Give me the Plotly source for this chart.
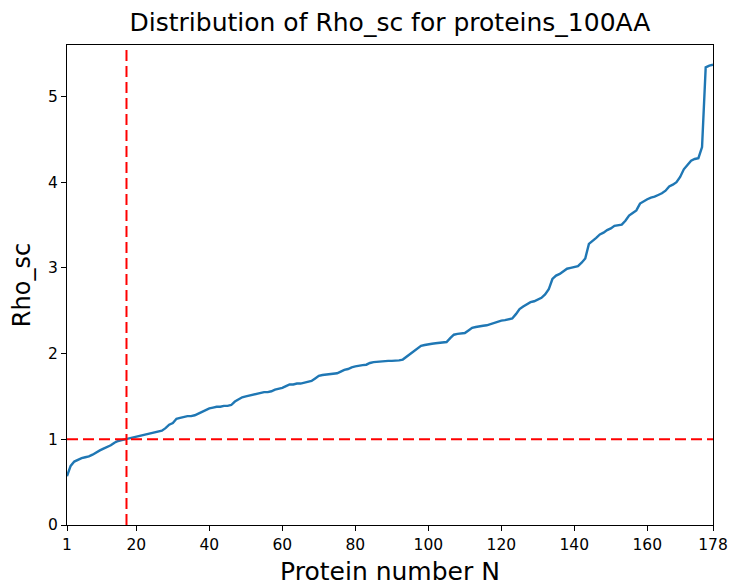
import plotly.graph_objects as go

# Rho_sc per protein, sorted ascending (178 proteins of ~100 residues)
protein_n = list(range(1, 179))
rho_sc = [
    0.57, 0.69, 0.74, 0.76, 0.78, 0.79, 0.80, 0.82, 0.85, 0.87,
    0.89, 0.91, 0.93, 0.96, 0.98, 0.99, 1.00, 1.01, 1.02, 1.03,
    1.04, 1.05, 1.06, 1.07, 1.08, 1.09, 1.10, 1.13, 1.17, 1.19,
    1.24, 1.25, 1.26, 1.27, 1.27, 1.28, 1.30, 1.32, 1.34, 1.36,
    1.37, 1.38, 1.38, 1.39, 1.39, 1.40, 1.44, 1.47, 1.49, 1.50,
    1.51, 1.52, 1.53, 1.54, 1.55, 1.55, 1.56, 1.58, 1.59, 1.60,
    1.62, 1.64, 1.64, 1.65, 1.65, 1.66, 1.67, 1.68, 1.71, 1.74,
    1.75, 1.755, 1.76, 1.77, 1.77, 1.79, 1.81, 1.82, 1.84, 1.85,
    1.86, 1.865, 1.87, 1.89, 1.90, 1.905, 1.91, 1.91, 1.915, 1.915,
    1.915, 1.92, 1.93, 1.96, 1.99, 2.03, 2.06, 2.09, 2.10, 2.11,
    2.115, 2.12, 2.125, 2.13, 2.135, 2.18, 2.22, 2.23, 2.235, 2.24,
    2.27, 2.30, 2.31, 2.32, 2.325, 2.33, 2.345, 2.36, 2.37, 2.385,
    2.39, 2.40, 2.41, 2.46, 2.52, 2.55, 2.58, 2.60, 2.61, 2.63,
    2.65, 2.69, 2.75, 2.87, 2.91, 2.93, 2.96, 2.99, 3.00, 3.01,
    3.02, 3.06, 3.11, 3.28, 3.31, 3.35, 3.39, 3.41, 3.44, 3.46,
    3.49, 3.50, 3.505, 3.55, 3.61, 3.64, 3.67, 3.75, 3.78, 3.80,
    3.82, 3.83, 3.85, 3.87, 3.90, 3.95, 3.97, 4.00, 4.06, 4.15,
    4.20, 4.25, 4.27, 4.28, 4.41, 5.34, 5.36, 5.37,
]

x_tick_vals = [1, 20, 40, 60, 80, 100, 120, 140, 160, 178]
y_tick_vals = [0, 1, 2, 3, 4, 5]

# reference threshold and the protein index where the curve crosses it
rho_threshold = 1.0
crossing_n = 17.3

FONT = "DejaVu Sans"
W, H = 731, 586
M_L, M_R, M_T, M_B = 67, 18, 45, 61

fig = go.Figure()
fig.add_trace(go.Scatter(
    x=protein_n, y=rho_sc, mode="lines",
    line=dict(color="#1f77b4", width=2.4),
    showlegend=False,
))

dash_style = dict(color="#ff0000", width=2, dash="11px,5px")
fig.add_shape(type="line", xref="paper", yref="y", x0=0, x1=1,
              y0=rho_threshold, y1=rho_threshold, line=dash_style)
fig.add_shape(type="line", xref="x", yref="paper", x0=crossing_n, x1=crossing_n,
              y0=0, y1=1, line=dash_style)

fig.update_layout(
    width=W, height=H,
    margin=dict(l=M_L, r=M_R, t=M_T, b=M_B),
    paper_bgcolor="white", plot_bgcolor="white",
    font=dict(family=FONT, color="black"),
    title=dict(
        text="Distribution of Rho_sc for proteins_100AA",
        x=(M_L + (W - M_R - M_L) / 2) / W,
        xanchor="center", y=1 - 22 / H, yanchor="middle",
        yref="container",
        font=dict(family=FONT, size=25, color="black"),
    ),
    xaxis=dict(
        range=[1, 178], tickvals=x_tick_vals, ticktext=[str(v) for v in x_tick_vals],
        showgrid=False, zeroline=False, automargin=False,
        showline=True, linecolor="black", linewidth=1.2, mirror=True,
        ticks="outside", ticklen=5, tickcolor="black", tickwidth=1.2,
        tickfont=dict(family=FONT, size=15.5),
        title=dict(text="Protein number N", font=dict(family=FONT, size=25), standoff=10),
    ),
    yaxis=dict(
        range=[0, 5.6], tickvals=y_tick_vals,
        showgrid=False, zeroline=False, automargin=False,
        showline=True, linecolor="black", linewidth=1.2, mirror=True,
        ticks="outside", ticklen=5, tickcolor="black", tickwidth=1.2,
        tickfont=dict(family=FONT, size=15.5),
        title=dict(text="Rho_sc", font=dict(family=FONT, size=24), standoff=10),
    ),
)

fig.write_html("out.html")
